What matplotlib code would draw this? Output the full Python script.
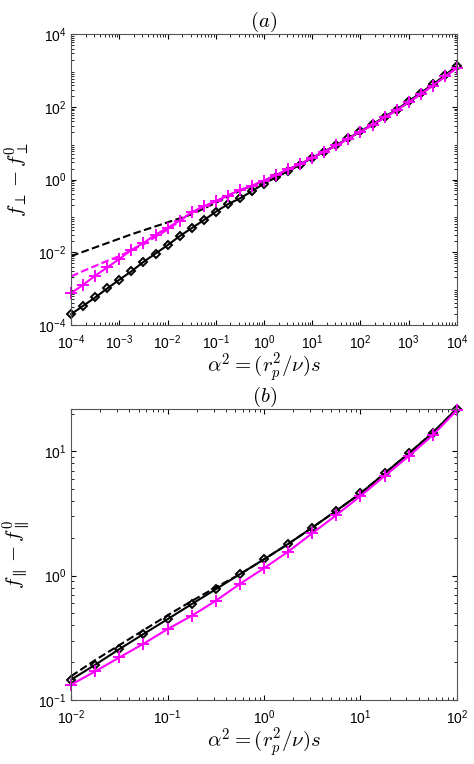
import numpy as np
import matplotlib
matplotlib.use("Agg")
import matplotlib.pyplot as plt

plt.rcParams['mathtext.fontset'] = 'cm'
plt.rcParams['font.family'] = ['Liberation Sans', 'DejaVu Sans']

# panel (a): log10 values, quarter-decade steps from 1e-4 to 1e4
a_logx = np.arange(-4, 4.01, 0.25)
a_black = [-3.71, -3.48, -3.25, -3.0, -2.76, -2.53, -2.27, -2.04, -1.81, -1.56, -1.34,
           -1.12, -0.89, -0.68, -0.52, -0.32, -0.11, 0.06, 0.23, 0.41, 0.60, 0.77, 0.95,
           1.14, 1.33, 1.52, 1.73, 1.93, 2.16, 2.39, 2.62, 2.87, 3.13]
a_mag = [-3.13, -2.90, -2.65, -2.42, -2.19, -1.94, -1.75, -1.52, -1.33, -1.13, -0.90,
         -0.74, -0.60, -0.44, -0.29, -0.17, -0.03, 0.12, 0.28, 0.43, 0.60, 0.77, 0.94,
         1.13, 1.32, 1.51, 1.71, 1.91, 2.13, 2.36, 2.59, 2.84, 3.08]
a_black_dash = [-2.11, -1.99, -1.87, -1.75, -1.63, -1.51, -1.40, -1.29, -1.18, -1.07, -0.96,
                -0.80, -0.64, -0.48, -0.31, -0.17, -0.03, 0.12, 0.28, 0.43, 0.60, 0.77, 0.94,
                1.13, 1.32, 1.51, 1.71, 1.91, 2.13, 2.36, 2.59, 2.84, 3.08]
a_mag_dash = [-2.67, -2.52, -2.38, -2.24, -2.11, -1.95, -1.79, -1.58, -1.38, -1.15, -0.90,
              -0.74, -0.60, -0.44, -0.29, -0.17, -0.03, 0.12, 0.28, 0.43, 0.60, 0.77, 0.94,
              1.13, 1.32, 1.51, 1.71, 1.91, 2.13, 2.36, 2.59, 2.84, 3.08]

# panel (b): quarter-decade steps from 1e-2 to 1e2
b_logx = np.arange(-2, 2.01, 0.25)
b_black = [-0.838, -0.718, -0.592, -0.471, -0.351, -0.230, -0.110, 0.011, 0.131, 0.254,
           0.386, 0.522, 0.661, 0.822, 0.983, 1.149, 1.344]
b_mag = [-0.878, -0.771, -0.659, -0.549, -0.431, -0.324, -0.203, -0.067, 0.059, 0.193,
         0.340, 0.487, 0.640, 0.801, 0.961, 1.130, 1.331]
b_black_dash = [-0.81, -0.68, -0.56, -0.44, -0.32, -0.205, -0.095, 0.011, 0.131, 0.254,
                0.386, 0.522, 0.661, 0.822, 0.983, 1.149, 1.344]

mag = '#ff00ff'
fig = plt.figure(figsize=(4.74, 7.64), dpi=100)
ax1 = fig.add_axes([0.150, 0.575, 0.814, 0.380])
ax2 = fig.add_axes([0.150, 0.084, 0.814, 0.381])


def draw(ax, logx, black, mag_vals, bdash, mdash):
    x = 10 ** logx
    ax.plot(x, 10 ** np.array(bdash), '--', color='k', lw=1.5)
    if mdash is not None:
        ax.plot(x, 10 ** np.array(mdash), '--', color=mag, lw=1.5)
    ax.plot(x, 10 ** np.array(black), '-', color='k', lw=1.5, marker='D', ms=4,
            mfc='none', mew=1.4, clip_on=False)
    ax.plot(x, 10 ** np.array(mag_vals), '-', color=mag, lw=1.5, marker='+', ms=8,
            mew=1.4, clip_on=False)
    ax.set_xscale('log')
    ax.set_yscale('log')
    ax.tick_params(which='both', direction='in', top=True, right=True, labelsize=10)
    ax.tick_params(axis='x', pad=6)
    for s in ax.spines.values():
        s.set_color('#555555')
    ax.set_xlabel(r'$\alpha^2 = (r_p^2/\nu)s$', fontsize=15, labelpad=0)


draw(ax1, a_logx, a_black, a_mag, a_black_dash, a_mag_dash)
ax1.set_xlim(1e-4, 1e4)
ax1.set_ylim(1e-4, 1e4)
ax1.set_xticks([10.0 ** k for k in range(-4, 5)])
ax1.set_yticks([10.0 ** k for k in range(-4, 5, 2)])
ax1.set_ylabel(r'$f_\perp - f_\perp^0$', fontsize=15)
ax1.set_title(r'$(a)$', fontsize=15, pad=4)

draw(ax2, b_logx, b_black, b_mag, b_black_dash, None)
ax2.set_xlim(1e-2, 1e2)
ax2.set_ylim(1e-1, 22)
ax2.set_ylabel(r'$f_\parallel - f_\parallel^0$', fontsize=15)
ax2.set_title(r'$(b)$', fontsize=15, pad=4)

fig.savefig('out.png', dpi=100)
